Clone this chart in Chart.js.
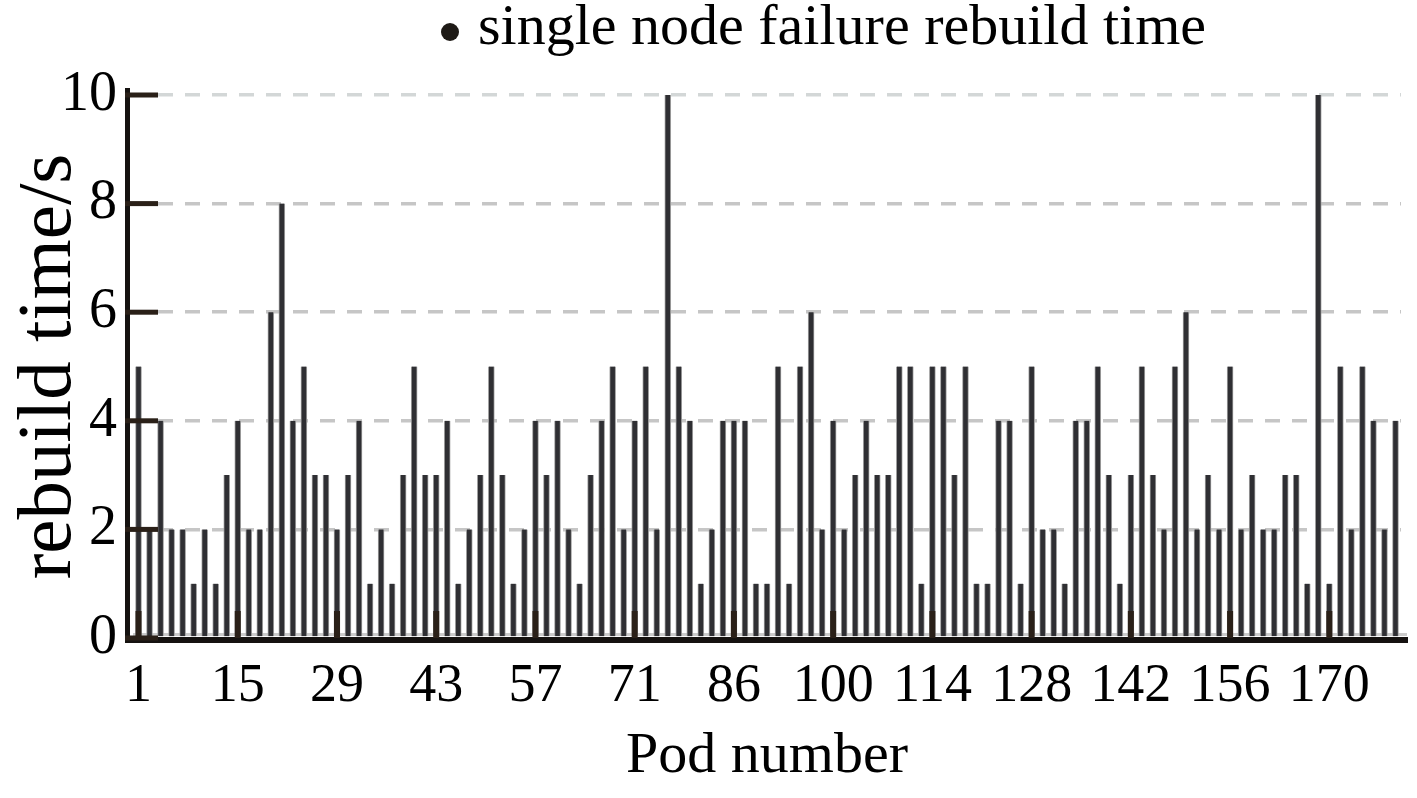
<!DOCTYPE html>
<html lang="en">
<head>
    <meta charset="UTF-8">
    <title>Rebuild time</title>
    <script src="https://cdn.jsdelivr.net/npm/chart.js"></script>
    <style>
        html, body { margin: 0; padding: 0; background: #fff; }
        .grafico { width: 1417px; height: 798px; }
    </style>
</head>
<body>
<div class="grafico"><canvas id="myChart"></canvas></div>

<script>
// labels shown under the axis, one every 9 bars
const tickLabels = ['1', '15', '29', '43', '57', '71', '86', '100', '114', '128', '142', '156', '170'];

// rebuild time (s) per bar
const rebuildTime = [
  5, 2, 4, 2, 2, 1, 2, 1, 3, 4, 2, 2, 6, 8, 4, 5, 3,
  3, 2, 3, 4, 1, 2, 1, 3, 5, 3, 3, 4, 1, 2, 3, 5,
  3, 1, 2, 4, 3, 4, 2, 1, 3, 4, 5, 2, 4, 5, 2, 10,
  5, 4, 1, 2, 4, 4, 4, 1, 1, 5, 1, 5, 6, 2, 4, 2, 3,
  4, 3, 3, 5, 5, 1, 5, 5, 3, 5, 1, 1, 4, 4, 1, 5,
  2, 2, 1, 4, 4, 5, 3, 1, 3, 5, 3, 2, 5, 6, 2, 3,
  2, 5, 2, 3, 2, 2, 3, 3, 1, 10, 1, 5, 2, 5, 4, 2, 4
];

const yTicks = [0, 2, 4, 6, 8, 10];
const labelStep = 9;

const categories = rebuildTime.map((v, i) => i % labelStep === 0 ? tickLabels[i / labelStep] : '');

const serif = 'Liberation Serif';

// axis lines, tick marks and legend like the original figure
const axisDeco = {
  id: 'axisDeco',
  beforeDatasetsDraw(chart) {
    const { ctx, chartArea } = chart;
    ctx.save();
    ctx.fillStyle = '#cbcbcb';
    ctx.fillRect(chartArea.left, chartArea.bottom - 5, chartArea.right - chartArea.left + 6, 3);
    ctx.restore();
  },
  afterDraw(chart) {
    const { ctx, chartArea, scales } = chart;
    const x = scales.x, y = scales.y;
    ctx.save();
    ctx.fillStyle = '#151210';
    // y axis line
    ctx.fillRect(chartArea.left - 8, y.getPixelForValue(10) - 7, 5, chartArea.bottom - y.getPixelForValue(10) + 12);
    // x axis line
    ctx.fillRect(chartArea.left - 8, chartArea.bottom - 1, chartArea.right - chartArea.left + 15, 6);
    // y tick marks (inside)
    ctx.fillStyle = '#2a2018';
    yTicks.forEach(v => {
      const py = y.getPixelForValue(v);
      ctx.fillRect(chartArea.left - 8, py - 2.5, 33, 5);
    });
    // x tick marks (inside)
    categories.forEach((c, i) => {
      if (c === '') return;
      const px = x.getPixelForValue(i);
      ctx.fillRect(px - 3, chartArea.bottom - 27, 6, 27);
    });
    // legend
    const label = chart.data.datasets[0].label;
    ctx.fillStyle = '#1e1a16';
    ctx.beginPath();
    ctx.arc(450, 32, 9, 0, Math.PI * 2);
    ctx.fill();
    ctx.fillStyle = '#000';
    ctx.font = '58px "' + serif + '"';
    ctx.textBaseline = 'alphabetic';
    ctx.textAlign = 'left';
    ctx.fillText(label, 478, 44);
    ctx.restore();
  }
};

const ctx = document.getElementById('myChart');
const chart = new Chart(ctx, {
  type: 'bar',
  data: {
    labels: categories,
    datasets: [{
      label: 'single node failure rebuild time',
      data: rebuildTime,
      backgroundColor: '#2f2f33',
      borderColor: '#a2a2a2',
      borderWidth: { left: 1, right: 1, top: 0, bottom: 0 },
      borderSkipped: false,
      barThickness: 6
    }]
  },
  options: {
    responsive: true,
    maintainAspectRatio: false,
    animation: false,
    layout: { padding: { top: 95, right: 16, left: 0, bottom: 0 } },
    plugins: {
      legend: { display: false },
      tooltip: { enabled: false }
    },
    scales: {
      x: {
        afterFit: s => { s.height = 160; },
        grid: { display: false, drawTicks: false },
        border: { display: false },
        ticks: {
          autoSkip: false,
          maxRotation: 0,
          padding: 16,
          color: '#000',
          font: { family: serif, size: 54 },
          callback: function (v, i) { return categories[i]; }
        },
        title: {
          display: true,
          text: 'Pod number',
          color: '#000',
          padding: 6,
          font: { family: serif, size: 58 }
        }
      },
      y: {
        min: 0,
        max: 10,
        afterFit: s => { s.width = 133; },
        border: { display: false, dash: [15, 12], dashOffset: 2 },
        grid: {
          drawTicks: false,
          lineWidth: 3.5,
          color: c => c.tick.value === 0 ? 'rgba(0,0,0,0)' : (c.tick.value === 10 ? '#d3d7d7' : '#c6c6c6')
        },
        ticks: {
          stepSize: 2,
          padding: 16,
          color: '#000',
          font: { family: serif, size: 56 }
        },
        title: {
          display: true,
          text: 'rebuild time/s',
          color: '#000',
          padding: { top: 4, bottom: 0 },
          font: { family: serif, size: 77 }
        }
      }
    }
  },
  plugins: [axisDeco]
});
</script>
</body>
</html>
